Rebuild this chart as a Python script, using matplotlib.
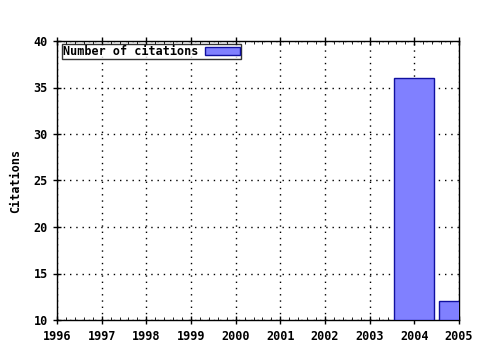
import matplotlib
matplotlib.use("Agg")
import matplotlib.pyplot as plt
from matplotlib.ticker import MultipleLocator

years = [2004, 2005]
citations = [36, 12]
xticks = list(range(1996, 2006))
yticks = [10, 15, 20, 25, 30, 35, 40]

plt.rcParams['font.family'] = ['DejaVu Sans Mono']
plt.rcParams['font.weight'] = 'bold'
plt.rcParams['font.size'] = 8.5

fig = plt.figure(figsize=(4.8, 3.5), dpi=100)
ax = fig.add_axes([57/480, 1-320/350, (459-57)/480, (320-41)/350])

ax.bar(years, [c - 10 for c in citations], bottom=10, width=0.9,
       color='#8080ff', edgecolor='#1010a0', linewidth=1.0,
       label='Number of citations', zorder=3)

ax.set_xlim(1996, 2005)
ax.set_ylim(10, 40)
ax.set_xticks(xticks)
ax.set_yticks(yticks)
ax.xaxis.set_minor_locator(MultipleLocator(0.2))
ax.grid(True, which='major', color='black', linestyle=(0, (1, 3.5)), linewidth=1.0, zorder=1)
ax.tick_params(axis='both', which='major', direction='inout', length=6, width=1, labelsize=8.5)
ax.tick_params(axis='x', which='minor', direction='in', length=2, width=0.6, top=True)
ax.tick_params(axis='x', which='major', top=True, pad=4)
for s in ax.spines.values():
    s.set_linewidth(1.0)
    s.set_color('black')
ax.set_ylabel('Citations', fontsize=8.5, fontweight='bold', labelpad=8)

leg = ax.legend(loc='upper left', bbox_to_anchor=(0.012, 0.99), markerfirst=False,
                frameon=True, fancybox=False, borderpad=0.1, handlelength=2.9,
                handleheight=0.6, borderaxespad=0, handletextpad=0.6, fontsize=8.5)
leg.get_frame().set_edgecolor('black')
leg.get_frame().set_linewidth(1.0)

fig.savefig('out.png', dpi=100)
